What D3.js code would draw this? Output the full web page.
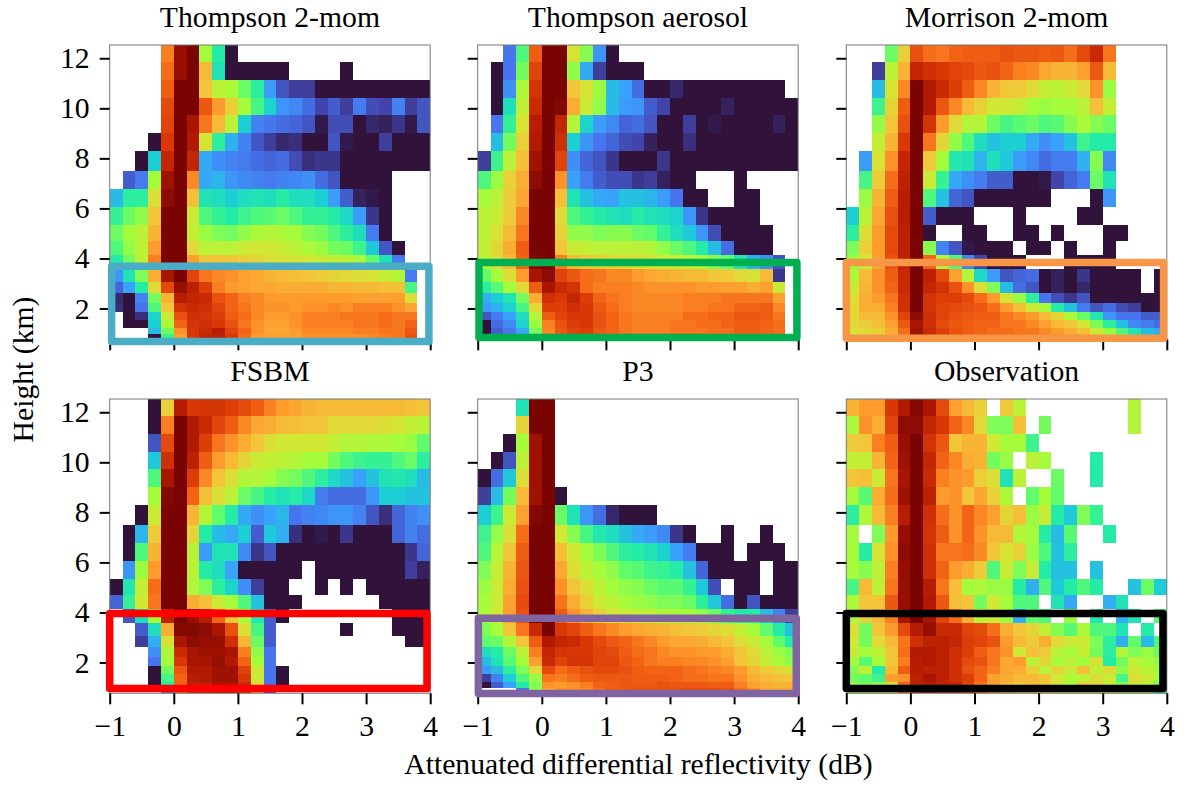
<!DOCTYPE html>
<html>
<head>
<meta charset="utf-8">
<script src="https://cdn.jsdelivr.net/npm/d3@7"></script>
<style>
html, body { margin: 0; padding: 0; background: #fff; }
text { font-family: "Liberation Serif", serif; fill: #000; }
</style>
</head>
<body>
<script>
// Position in the colour map (0-100), top row first.
// Missing trailing cells and n are empty (white) bins.
const n = null;

const xEdges = [-1, -0.8, -0.6, -0.4, -0.2, 0, 0.2, 0.4, 0.6, 0.8, 1, 1.2, 1.4, 1.6, 1.8, 2, 2.2, 2.4, 2.6, 2.8, 3, 3.2, 3.4, 3.6, 3.8, 4];
const yEdges = [12.53, 11.84, 11.13, 10.43, 9.72, 9.03, 8.31, 7.48, 6.76, 6.05, 5.33, 4.69, 4.12, 3.59, 3.07, 2.63, 2.24, 1.87, 1.56, 1.24, 0.97, 0.77];

const titles = ['Thompson 2-mom', 'Thompson aerosol', 'Morrison 2-mom', 'FSBM', 'P3', 'Observation'];
const xTicks = [-1, 0, 1, 2, 3, 4];
const yTicks = [2, 4, 6, 8, 10, 12];

const thompson2mom = [
  [n,n,n,n,70,90,95,47,33,0],
  [n,n,n,n,72,90,95,62,31,0,0,0,0,0,n,n,n,n,0],
  [n,n,n,n,74,95,95,60,50,48,41,34,19,9,6,6,0,0,0,0,0,0,0,0,0],
  [n,n,n,n,77,95,95,75,67,58,47,37,28,18,16,12,7,10,6,14,8,7,15,6,9],
  [n,n,n,n,78,95,88,71,62,50,27,15,13,12,11,9,1,8,8,0,3,2,5,1,9],
  [n,n,n,0,80,95,87,54,34,22,15,9,6,3,4,0,0,9,1,0,0,6,0,0,0],
  [n,n,0,27,84,95,84,21,17,15,14,12,11,12,8,4,5,5,0,0,0,0,0,0,0],
  [n,10,14,47,89,95,69,21,23,18,16,15,14,15,16,17,12,9,0,0,0,0],
  [24,34,34,55,91,95,61,31,30,27,30,31,30,33,30,30,27,19,10,2,1,0],
  [35,41,45,60,95,95,52,38,35,33,36,38,39,41,38,35,35,33,29,19,5,0],
  [41,47,50,63,95,95,51,46,43,42,45,48,49,48,47,44,42,38,34,30,14,0],
  [38,45,50,67,95,95,56,50,50,50,52,53,53,52,50,48,46,42,41,36,26,9,0],
  [33,42,50,70,94,94,66,60,60,60,58,57,55,54,54,53,52,51,50,48,40,31,14],
  [18,31,43,64,88,94,78,71,69,68,66,65,63,62,61,60,59,57,56,55,54,51,49,14],
  [11,20,33,56,77,90,85,79,70,67,66,65,65,64,64,64,64,63,63,62,62,61,61,37],
  [3,0,15,42,63,86,84,83,76,73,70,69,67,67,67,67,67,67,67,66,66,66,66,55],
  [4,0,13,38,60,81,83,82,78,73,71,69,68,68,67,68,68,69,68,70,70,70,68,65],
  [n,0,4,28,52,76,82,81,79,74,72,69,67,67,68,70,70,70,71,71,71,72,71,71],
  [n,0,0,27,48,73,81,82,80,76,71,68,66,66,68,70,70,70,70,71,71,72,71,73],
  [n,n,n,24,42,68,80,83,86,78,73,68,65,65,67,69,69,69,69,70,70,71,71,75],
  [n,n,n,0,36,66,80,84,85,80,72,67,66,66,66,68,68,68,68,68,69,70,71,76]
];

const thompsonAerosol = [
  [n,n,13,38,74,95,95,54,44,18,0],
  [n,0,13,42,78,95,95,45,21,6,0,0,0],
  [n,0,17,48,81,95,95,60,54,46,24,20,12,0,0,3,0,0,0,0,0,0,0,0],
  [n,0,30,50,83,94,92,64,52,45,24,19,18,10,7,0,0,0,0,2,0,0,0,0,0],
  [n,13,35,54,86,95,84,49,28,19,16,11,12,9,0,0,6,0,1,0,0,0,0,2,0],
  [n,24,42,58,87,95,82,27,18,13,11,8,7,2,0,0,4,0,0,0,0,0,0,0,0],
  [6,36,50,61,89,95,78,17,11,9,5,0,0,0,5,0,0,0,0,0,0,0,0,0,0],
  [38,46,58,64,91,95,68,20,14,10,8,8,5,6,2,0,0,n,n,n,0],
  [47,50,59,65,95,95,61,31,25,21,20,25,25,23,19,13,0,0,n,n,0,0],
  [50,52,59,69,95,95,56,38,35,33,31,30,33,31,30,28,18,5,0,0,0,0],
  [50,54,62,71,95,95,58,45,45,43,44,44,41,40,35,30,26,18,8,0,0,0,0],
  [51,57,64,74,95,95,60,52,51,50,50,50,50,49,45,41,38,33,24,12,0,0,0],
  [50,55,62,73,92,93,70,62,60,58,57,56,55,54,53,52,50,48,44,40,31,22,17,9],
  [40,47,55,67,88,91,78,75,72,71,69,69,67,65,64,63,62,62,60,59,56,54,62,5],
  [34,39,47,56,74,88,83,81,72,70,70,70,69,68,68,68,68,67,67,66,66,64,66,52],
  [22,27,31,42,64,82,80,84,79,73,71,70,69,69,69,69,70,70,70,71,71,71,71,66],
  [19,22,28,37,56,79,79,82,80,75,72,70,69,69,69,69,70,70,71,71,73,73,74,69],
  [9,14,20,30,49,74,78,80,80,76,73,71,70,70,70,70,72,72,73,73,75,75,74,71],
  [0,12,16,28,46,70,76,79,80,76,73,71,70,70,70,71,71,72,72,73,74,74,73,72],
  [0,10,13,21,42,69,75,78,79,75,73,71,70,70,70,71,71,71,72,72,74,74,73,72],
  [n,6,10,18,40,68,74,77,77,75,73,71,71,71,71,71,72,72,73,73,74,74,73,72]
];

const morrison2mom = [
  [n,n,n,41,58,76,72,71,73,74,74,74,76,75,75,74,75,72,77,83,71],
  [n,n,6,50,63,84,82,80,78,77,75,76,73,70,69,65,63,63,66,75,62],
  [n,n,24,54,69,93,87,83,79,74,69,63,60,59,56,51,50,52,56,68,46],
  [n,n,36,57,74,95,87,75,69,62,58,53,53,51,47,46,47,47,50,61,51],
  [n,n,45,60,76,95,81,67,56,49,49,41,37,39,41,38,39,44,48,44,41],
  [n,n,51,63,80,95,71,57,45,38,30,25,27,27,21,17,20,25,36,33,33],
  [n,19,54,68,84,95,59,47,32,31,23,30,26,19,16,12,14,14,22,44,16],
  [n,37,59,72,85,95,52,35,21,17,14,10,10,0,0,1,7,11,14,41,31],
  [n,46,63,74,86,95,38,25,11,9,0,0,0,0,0,0,n,n,n,0,18],
  [27,50,65,76,86,95,10,0,0,0,n,n,n,0,n,n,n,n,0,0],
  [34,55,67,77,85,95,0,n,n,0,0,n,n,0,0,n,0,n,n,n,0,0],
  [43,58,67,77,85,95,44,15,9,1,0,0,0,n,0,0,n,0,n,n,0],
  [46,52,66,76,85,95,73,48,38,15,7,0,0,0,n,n,n,0,0,0,0],
  [48,62,68,74,83,94,85,77,66,49,29,19,9,11,12,0,2,0,5,0,0,0,0,n,0],
  [52,63,68,73,83,94,84,81,76,68,55,43,24,12,9,0,2,0,3,0,0,0,0,n,0],
  [55,64,67,71,82,94,81,79,79,77,72,67,54,46,34,13,8,5,9,0,0,0,0,0,0],
  [56,64,64,70,82,94,81,78,77,76,75,72,67,61,52,47,33,25,14,9,12,8,6,0,0],
  [56,62,62,68,78,91,82,78,76,75,74,74,71,69,67,62,57,48,41,32,18,13,13,10,10],
  [56,59,61,66,75,88,82,77,75,74,73,73,71,71,69,66,62,60,53,43,34,25,16,14,12],
  [54,56,58,64,72,89,83,79,76,74,73,72,72,71,71,69,67,64,61,52,46,38,31,24,21],
  [53,55,56,63,71,88,83,80,77,75,74,73,72,72,71,70,69,66,63,56,49,42,33,27,24]
];

const fsbm = [
  [n,n,n,0,58,86,80,81,81,79,77,74,70,67,65,63,62,62,62,62,62,62,62,61,60],
  [n,n,n,0,70,95,87,83,78,74,69,65,64,62,61,60,60,56,56,56,56,55,54,51,50],
  [n,n,n,9,77,95,87,79,71,68,64,60,55,53,53,53,53,51,49,49,48,48,47,46,40],
  [n,n,n,26,82,95,85,74,67,62,57,52,51,50,49,47,47,42,38,36,35,35,38,41,34],
  [n,n,n,38,88,95,79,69,60,55,49,49,47,44,42,38,34,29,25,20,25,31,32,30,24],
  [n,n,n,47,92,95,73,61,55,50,41,37,33,31,33,29,14,12,12,12,18,27,27,25,25],
  [n,n,0,52,95,95,63,49,40,33,21,17,20,23,13,15,16,18,18,15,9,4,11,15,17],
  [n,0,23,59,95,95,57,33,24,21,27,10,26,22,4,0,1,0,5,0,0,0,11,15,12],
  [n,0,38,63,95,95,50,19,31,31,16,5,9,0,0,0,0,0,0,0,0,0,0,5,11],
  [n,18,46,67,95,95,50,33,30,20,0,0,0,0,0,n,0,0,0,0,0,0,0,6,2],
  [0,32,51,72,95,95,49,43,34,28,17,6,0,0,n,n,0,n,0,n,0,0,0,0,0],
  [11,35,53,71,95,95,64,61,52,47,38,25,0,0,0,n,n,n,n,n,n,0,0,0,0],
  [n,9,30,47,85,93,90,86,73,60,48,32,10,0,n,n,n,n,n,n,n,n,0,0,0],
  [n,n,10,30,64,92,92,91,88,76,55,37,10,n,n,n,n,n,0,n,n,n,0,0,0],
  [n,n,6,22,54,88,91,90,90,82,63,41,10,n,n,n,n,n,n,n,n,n,n,0,0],
  [n,n,n,17,48,83,88,89,89,88,70,45,13],
  [n,n,n,13,47,80,88,88,90,87,73,47,13],
  [n,n,n,0,42,75,87,87,89,89,78,52,13,0],
  [n,n,n,0,37,73,86,87,89,89,80,52,13,0],
  [n,n,n,0,33,73,85,85,88,88,83,55,13,0],
  [n,n,n,n,12,72,84,84,86,86,82,62,9]
];

const p3 = [
  [n,n,n,31,95,95],
  [n,n,n,57,95,95],
  [n,n,0,47,89,95],
  [n,0,9,50,89,95],
  [0,12,26,55,89,95],
  [6,24,42,62,89,95,0],
  [27,36,52,66,92,95,41,31,18,12,3,0,0,0],
  [36,45,55,72,93,95,53,44,37,32,30,25,21,19,16,5,0,n,n,0,n,n,0],
  [38,49,60,74,95,95,61,53,47,43,38,34,33,31,28,20,14,0,0,0,n,0,0,0],
  [43,51,63,75,95,95,65,55,50,47,45,40,39,36,35,33,25,11,0,0,0,0,n,0,0],
  [46,52,64,76,95,95,68,60,55,50,47,45,44,41,39,39,35,26,8,n,0,0,n,0,0],
  [47,52,66,77,95,95,71,64,58,52,50,47,46,45,43,43,41,34,26,12,0,9,0,0,0],
  [48,53,66,76,93,94,74,68,63,58,54,52,51,50,49,48,47,45,41,35,32,33,24,15,6],
  [43,47,60,71,83,93,80,78,74,71,69,67,65,64,63,61,60,59,57,55,51,47,40,33,25],
  [40,41,49,60,74,87,84,83,80,77,75,73,71,69,67,65,65,64,62,60,55,52,47,40,33],
  [30,33,41,50,70,84,81,80,80,78,77,74,72,71,69,68,68,67,67,64,60,56,50,46,43],
  [24,31,39,47,66,83,78,81,81,78,78,75,73,71,70,70,69,69,68,66,60,57,51,48,45],
  [19,24,34,43,56,77,72,74,76,77,77,76,74,73,73,73,72,71,70,69,67,62,59,57,54],
  [6,15,27,38,46,71,70,72,74,75,75,75,74,74,74,73,72,72,71,71,68,64,62,61,60],
  [0,10,20,33,44,68,67,68,70,73,74,75,75,75,76,75,75,75,74,74,70,66,64,63,63],
  [n,n,n,13,44,66,68,68,69,72,74,75,76,76,76,76,77,77,77,76,72,69,65,65,65]
];

const observation = [
  [63,67,67,80,87,92,88,77,66,62,58,n,59,50,n,n,n,n,n,n,n,n,49],
  [48,68,64,78,91,91,84,80,73,69,56,43,43,61,n,42,n,n,n,n,n,n,49],
  [59,60,70,74,90,93,81,75,60,63,63,53,47,47,36],
  [51,51,63,73,89,94,84,73,69,64,63,42,46,n,50,47,n,n,n,33],
  [60,61,52,71,88,95,83,70,68,67,58,55,31,50,n,n,41,n,n,33],
  [47,39,64,72,89,95,85,67,68,60,65,58,48,n,40,47,40],
  [34,48,62,70,86,95,82,72,68,73,69,66,57,61,46,52,33,26,43,35],
  [47,n,43,67,90,95,81,74,68,73,68,62,62,49,47,33,24,39,n,n,33],
  [47,33,54,68,91,95,82,71,71,72,69,60,54,58,46,38,25,34],
  [47,44,50,70,90,95,82,73,67,64,59,38,52,43,52,33,25,25,n,25],
  [37,62,50,71,90,95,86,71,61,47,48,46,46,33,22,38,26,33,38,33,n,n,25,41,27],
  [48,60,60,75,90,95,87,75,61,60,42,53,47,38,38,n,31,21,n,n,22,31],
  [48,58,62,70,88,93,88,78,72,64,50,52,46,22,40,38,n,46,n,32,n,22,31,n,38],
  [55,42,60,67,77,86,90,83,83,78,77,72,64,60,57,51,44,39,48,38,38,31,n,33],
  [53,42,56,62,71,82,85,85,84,79,78,76,67,62,59,64,56,52,52,43,34,22,40,24,38],
  [52,47,50,60,72,87,87,85,82,79,74,71,68,53,61,59,50,47,51,42,34,49,43,46,41],
  [47,39,47,60,70,86,87,85,82,77,76,71,65,67,50,57,47,50,47,54,33,42,50,47,46],
  [44,50,33,62,74,86,85,85,82,76,73,70,65,64,58,50,57,52,61,50,56,45,52,50,47],
  [42,40,36,66,68,85,88,85,82,79,73,66,64,62,62,60,53,48,50,55,52,37,55,52,47],
  [46,42,46,54,73,85,86,85,84,78,71,66,62,60,62,60,54,47,58,57,50,43,52,50,42],
  [48,45,50,55,72,84,85,84,83,80,73,68,64,61,60,60,55,50,55,55,50,45,50,48,33]
];

const panels = [thompson2mom, thompsonAerosol, morrison2mom, fsbm, p3, observation];

// Highlighted layer of each panel: [x0, x1, y0, y1] in dB and km
const boxExtents = [
  [-0.97, 3.98, 0.68, 3.69],
  [-0.98, 3.98, 0.84, 3.84],
  [-1.0, 3.95, 0.81, 3.84],
  [-1.0, 3.95, 0.96, 3.96],
  [-0.99, 3.97, 0.76, 3.77],
  [-1.0, 3.94, 0.96, 3.96]
];
const boxColors = ['#4bacc6', '#00b050', '#f79646', '#ff0000', '#8064a2', '#000000'];

// Turbo as matplotlib has it; d3.interpolateTurbo starts on a different dark
const turboStops = [0, 7, 13, 20, 27, 33, 40, 47, 53, 60, 67, 73, 80, 87, 93, 100];
const turboColors = ['#30123b', '#4145ab', '#4675ed', '#39a2fc', '#1bcfd4', '#24eca6', '#61fc6c', '#a4fc3b', '#d1e834', '#f3c63a', '#fe9b2d', '#f36315', '#d93806', '#b11901', '#7a0402', '#7a0402'];

const width = 1190;
const height = 786;
const panelLefts = [109.7, 477.7, 846.3];
const panelTops = [45, 399];
const panelW = 320.5;
const panelH = 294.3;
const fontSize = '29.7px';

const color = d3.scaleLinear().domain(turboStops).range(turboColors);
const x = d3.scaleLinear().domain([-1, 4]).range([0, panelW]);
const y = d3.scaleLinear().domain([0.77, 12.53]).range([panelH, 0]);

const svg = d3.select('body').append('svg')
  .attr('width', width)
  .attr('height', height)
  .style('display', 'block');

panels.forEach((rows, p) => {
  const col = p % 3;
  const row = Math.floor(p / 3);
  const g = svg.append('g')
    .attr('transform', `translate(${panelLefts[col]}, ${panelTops[row]})`);

  const cells = rows.flatMap((vals, r) => vals.map((v, c) => ({ v, r, c }))).filter(d => d.v !== null);

  g.append('g')
    .attr('shape-rendering', 'crispEdges')
    .selectAll('rect')
    .data(cells)
    .enter()
    .append('rect')
    .attr('x', d => x(xEdges[d.c]))
    .attr('y', d => y(yEdges[d.r]))
    .attr('width', d => x(xEdges[d.c + 1]) - x(xEdges[d.c]))
    .attr('height', d => y(yEdges[d.r + 1]) - y(yEdges[d.r]))
    .attr('fill', d => color(d.v));

  g.append('rect')
    .attr('width', panelW)
    .attr('height', panelH)
    .attr('fill', 'none')
    .attr('stroke', '#777')
    .attr('stroke-width', 1);

  const xAxis = g.append('g')
    .attr('transform', `translate(0, ${panelH})`)
    .call(d3.axisBottom(x).tickValues(xTicks).tickSize(11).tickPadding(11)
      .tickFormat(row === 1 ? (d => d3.format('d')(d).replace('-', '\u2212')) : ''));
  const yAxis = g.append('g')
    .call(d3.axisLeft(y).tickValues(yTicks).tickSize(10).tickPadding(10)
      .tickFormat(col === 0 ? d3.format('d') : ''));

  [xAxis, yAxis].forEach(a => {
    a.select('.domain').remove();
    a.selectAll('.tick line').attr('stroke', '#000').attr('stroke-width', 2);
    a.selectAll('.tick text')
      .style('font-family', '"Liberation Serif", serif')
      .style('font-size', fontSize);
  });

  const b = boxExtents[p];
  g.append('rect')
    .attr('x', x(b[0]))
    .attr('y', y(b[3]))
    .attr('width', x(b[1]) - x(b[0]))
    .attr('height', y(b[2]) - y(b[3]))
    .attr('fill', 'none')
    .attr('stroke', boxColors[p])
    .attr('stroke-width', 7.5)
    .attr('stroke-linejoin', 'round');

  g.append('text')
    .attr('x', panelW / 2)
    .attr('y', -18)
    .attr('text-anchor', 'middle')
    .style('font-size', fontSize)
    .text(titles[p]);
});

svg.append('text')
  .attr('x', 638.5)
  .attr('y', 774)
  .attr('text-anchor', 'middle')
  .style('font-size', fontSize)
  .text('Attenuated differential reflectivity (dB)');

svg.append('text')
  .attr('transform', 'translate(33, 369.5) rotate(-90)')
  .attr('text-anchor', 'middle')
  .style('font-size', fontSize)
  .text('Height (km)');
</script>
</body>
</html>
